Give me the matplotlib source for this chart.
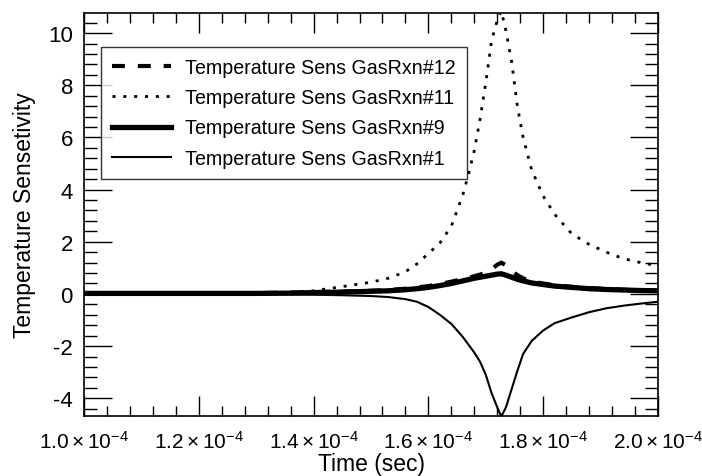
import numpy as np
import matplotlib
matplotlib.use("Agg")
import matplotlib.pyplot as plt
from matplotlib.ticker import MultipleLocator

plt.rcParams['font.family'] = ['Liberation Sans', 'DejaVu Sans']
plt.rcParams['mathtext.fontset'] = 'custom'
plt.rcParams['mathtext.rm'] = 'Liberation Sans'
plt.rcParams['mathtext.it'] = 'Liberation Sans:italic'
plt.rcParams['mathtext.bf'] = 'Liberation Sans:bold'
plt.rcParams['axes.unicode_minus'] = False

# ---- data (time in seconds) ----
time = np.array([1.00, 1.10, 1.20, 1.30, 1.36, 1.40, 1.45, 1.50, 1.53, 1.56, 1.58,
                 1.60, 1.62, 1.64, 1.65, 1.66, 1.67, 1.68, 1.69, 1.70, 1.71, 1.72,
                 1.727, 1.735, 1.745, 1.755, 1.765, 1.78, 1.80, 1.82, 1.85, 1.88,
                 1.91, 1.94, 1.97, 2.00]) * 1e-4

sens_rxn12 = [0.03, 0.03, 0.03, 0.03, 0.05, 0.07, 0.09, 0.12, 0.15, 0.20, 0.25,
              0.30, 0.38, 0.47, 0.52, 0.57, 0.62, 0.68, 0.74, 0.82, 0.95, 1.12,
              1.20, 1.10, 0.88, 0.72, 0.60, 0.48, 0.40, 0.33, 0.27, 0.22,
              0.19, 0.16, 0.14, 0.13]
sens_rxn11 = [0.0, 0.0, 0.0, 0.01, 0.05, 0.12, 0.28, 0.45, 0.60, 0.85, 1.15,
              1.55, 1.95, 2.60, 3.20, 3.80, 4.60, 5.50, 6.70, 8.10, 9.70, 10.50,
              10.85, 10.10, 8.90, 7.20, 6.00, 4.75, 3.75, 3.05, 2.30, 1.90,
              1.60, 1.35, 1.20, 1.08]
sens_rxn9 = [0.02, 0.02, 0.02, 0.02, 0.03, 0.05, 0.07, 0.10, 0.12, 0.16, 0.20,
             0.25, 0.32, 0.40, 0.45, 0.50, 0.55, 0.60, 0.64, 0.68, 0.72, 0.76,
             0.77, 0.72, 0.64, 0.56, 0.50, 0.42, 0.36, 0.30, 0.25, 0.20,
             0.17, 0.15, 0.13, 0.12]
sens_rxn1 = [0.0, 0.0, 0.0, -0.01, -0.02, -0.03, -0.05, -0.08, -0.12, -0.20, -0.30,
             -0.50, -0.80, -1.15, -1.40, -1.65, -1.95, -2.25, -2.60, -3.10, -3.80, -4.35,
             -4.70, -4.35, -3.65, -2.95, -2.30, -1.80, -1.40, -1.12, -0.90, -0.70,
             -0.55, -0.45, -0.37, -0.30]

labels = ["Temperature Sens GasRxn#12", "Temperature Sens GasRxn#11",
          "Temperature Sens GasRxn#9", "Temperature Sens GasRxn#1"]
xticks = [1.0e-4, 1.2e-4, 1.4e-4, 1.6e-4, 1.8e-4, 2.0e-4]
xticklabels = [r'$\mathregular{1.0\times10^{-4}}$', r'$\mathregular{1.2\times10^{-4}}$',
               r'$\mathregular{1.4\times10^{-4}}$', r'$\mathregular{1.6\times10^{-4}}$',
               r'$\mathregular{1.8\times10^{-4}}$', r'$\mathregular{2.0\times10^{-4}}$']
yticks = [-4, -2, 0, 2, 4, 6, 8, 10]

fig = plt.figure(figsize=(7.02, 4.77), dpi=100)
ax = fig.add_axes([84/702, 1-417/477, (658-84)/702, (417-14)/477])

ax.plot(time, sens_rxn12, color='black', lw=3.0, linestyle=(0, (3.1, 3.1)), label=labels[0])
ax.plot(time, sens_rxn11, color='black', lw=2.0, linestyle=(0, (1.1, 2.8)), label=labels[1])
ax.plot(time, sens_rxn9, color='black', lw=3.8, label=labels[2])
ax.plot(time, sens_rxn1, color='black', lw=1.5, label=labels[3])

ax.set_xlim(1.0e-4, 2.0e-4)
ax.set_ylim(-4.68, 10.77)
ax.set_xticks(xticks)
ax.set_xticklabels(xticklabels)
ax.set_yticks(yticks)
ax.xaxis.set_minor_locator(MultipleLocator(0.04e-4))
ax.yaxis.set_minor_locator(MultipleLocator(0.4))

ax.tick_params(axis='both', which='both', direction='in', top=True, right=True,
               width=1.0, colors='black')
ax.tick_params(axis='x', which='major', length=14.5, pad=10, labelsize=15)
ax.tick_params(axis='x', which='minor', length=7.5)
ax.tick_params(axis='y', which='major', length=20, pad=8, labelsize=16)
ax.tick_params(axis='y', which='minor', length=9.5)
for s in ax.spines.values():
    s.set_linewidth(1.2)

ax.set_xlabel('Time (sec)', fontsize=16.5, labelpad=0)
ax.set_ylabel('Temperature Sensetivity', fontsize=16.5, labelpad=9)

leg = ax.legend(loc='upper left', bbox_to_anchor=((101-84)/574, (417-48)/403),
                borderaxespad=0, fontsize=14.1, frameon=True, fancybox=False,
                edgecolor='black', handlelength=3.0, handletextpad=0.75,
                labelspacing=0.58, borderpad=0.55)
leg.get_frame().set_linewidth(1.0)

fig.savefig('out.png', dpi=100)
